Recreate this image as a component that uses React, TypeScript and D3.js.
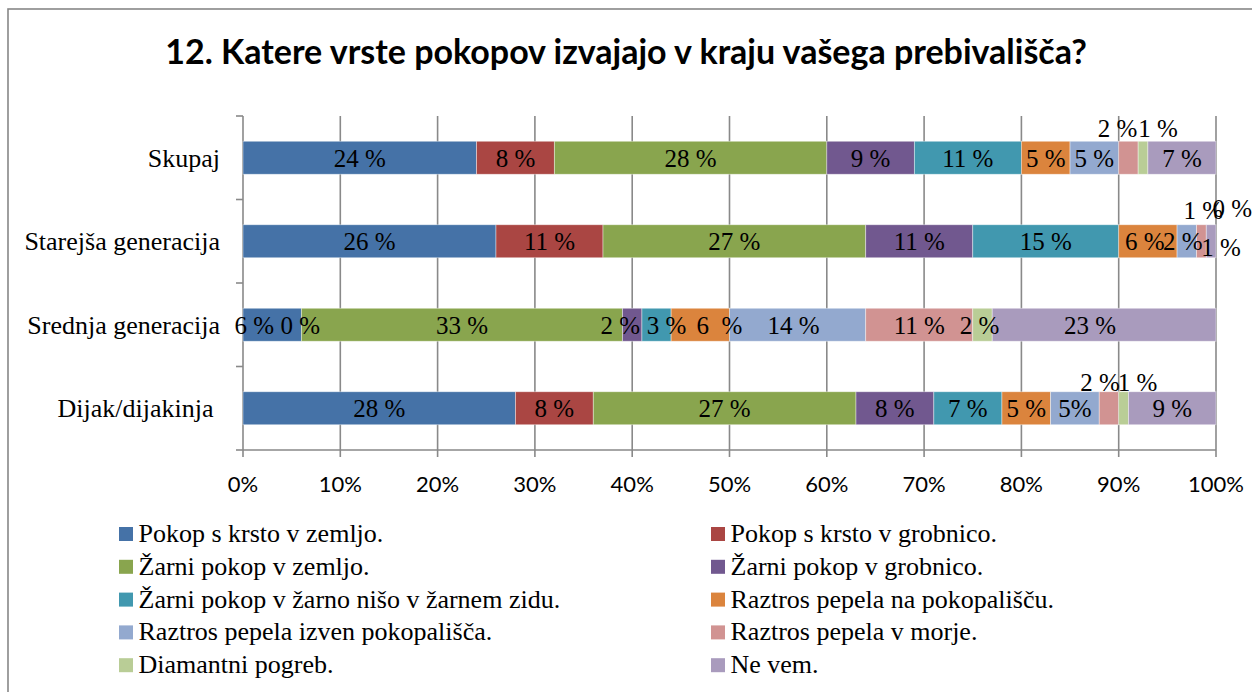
import React from "react";
import * as d3 from "d3";

const title = "12. Katere vrste pokopov izvajajo v kraju vašega prebivališča?";
const categories = ["Skupaj", "Starejša generacija", "Srednja generacija", "Dijak/dijakinja"];
const seriesNames = [
  "Pokop s krsto v zemljo.",
  "Pokop s krsto v grobnico.",
  "Žarni pokop v zemljo.",
  "Žarni pokop v grobnico.",
  "Žarni pokop v žarno nišo v žarnem zidu.",
  "Raztros pepela na pokopališču.",
  "Raztros pepela izven pokopališča.",
  "Raztros pepela v morje.",
  "Diamantni pogreb.",
  "Ne vem.",
];
// values per series, in category order
const krstoZemlja = [24, 26, 6, 28];
const krstoGrobnica = [8, 11, 0, 8];
const zarniZemlja = [28, 27, 33, 27];
const zarniGrobnica = [9, 11, 2, 8];
const zarniNisa = [11, 15, 3, 7];
const raztrosPokopalisce = [5, 6, 6, 5];
const raztrosIzven = [5, 2, 14, 5];
const raztrosMorje = [2, 1, 11, 2];
const diamantni = [1, 0, 2, 1];
const neVem = [7, 1, 23, 9];
const xTicks = [0, 10, 20, 30, 40, 50, 60, 70, 80, 90, 100];

const seriesValues = [
  krstoZemlja, krstoGrobnica, zarniZemlja, zarniGrobnica, zarniNisa,
  raztrosPokopalisce, raztrosIzven, raztrosMorje, diamantni, neVem,
];
const colors = [
  "#4572A7", "#AA4643", "#89A54E", "#71588F", "#4198AF",
  "#DB843D", "#93A9CF", "#D19392", "#B9CD96", "#A99BBD",
];

// label placement tweaks (style), keyed "category|series"
const labelOffsets: Record<string, [number, number]> = {
  "0|7": [-11, -30], "0|8": [15, -30],
  "1|5": [-3, 0], "1|6": [-4, 0], "1|7": [2, -31], "1|8": [26, -33], "1|9": [10, 6],
  "2|0": [-18, 0], "2|1": [-1, 0], "2|3": [-12, 0], "2|4": [10, 0], "2|5": [19, 0],
  "2|6": [-4, 0], "2|8": [-3, 0], "2|9": [-14, 0],
  "3|7": [-9, -26], "3|8": [14, -26],
};
const labelText: Record<string, string> = { "3|6": "5%", "2|5": "6  %" };

const W = 1252, H = 692;
const serif = "'Liberation Serif', 'Times New Roman', serif";
const sans = "Lato, 'Open Sans', sans-serif";
const grid = "#898989";

export default function App() {
  const x = d3.scaleLinear().domain([0, 100]).range([243, 1216]);
  const y = d3.scaleBand<string>().domain(categories).range([116, 450]).paddingInner(0.605).paddingOuter(0.3025);
  const stack = d3.stack<number>().keys(seriesNames.map((_, i) => String(i)))
    .value((ci, key) => seriesValues[+key][ci]);
  const stacked = stack(categories.map((_, i) => i));
  const bw = y.bandwidth();
  const step = y.step();
  const yTop = 116, yBot = 450;

  return (
    <svg width={W} height={H} style={{ position: "absolute", left: 0, top: 0, background: "#fff" }}>
      <rect x={8} y={9} width={1400} height={1000} fill="#fff" stroke="#878787" strokeWidth={1.6} />
      <text x={626} y={64} textAnchor="middle" fontFamily={sans} fontWeight={700} fontSize={34}>{title}</text>

      {/* gridlines */}
      {xTicks.map((t) => (
        <line key={"g" + t} x1={x(t)} x2={x(t)} y1={yTop} y2={yBot + 7} stroke={grid} strokeWidth={1.6} />
      ))}
      {/* y axis ticks */}
      {d3.range(categories.length + 1).map((i) => (
        <line key={"yt" + i} x1={236} x2={x(0)} y1={yTop + i * step} y2={yTop + i * step} stroke={grid} strokeWidth={1.6} />
      ))}
      <line x1={x(0)} x2={x(100)} y1={yBot} y2={yBot} stroke={grid} strokeWidth={1.6} />

      {/* bars */}
      {stacked.map((layer, si) => (
        <g key={"s" + si}>
          {layer.map((d, ci) => (
            <rect key={ci} x={x(d[0])} y={y(categories[ci])!} width={x(d[1]) - x(d[0])} height={bw}
              fill={colors[si]} stroke="#fff" strokeOpacity={0.5} strokeWidth={0.8} />
          ))}
        </g>
      ))}

      {/* data labels */}
      {stacked.map((layer, si) =>
        layer.map((d, ci) => {
          const k = ci + "|" + si;
          const off = labelOffsets[k] || [0, 0];
          const cx = (x(d[0]) + x(d[1])) / 2 + off[0];
          const cy = y(categories[ci])! + bw / 2 + 9 + off[1];
          const txt = labelText[k] || `${seriesValues[si][ci]} %`;
          return (
            <text key={"l" + k} x={cx} y={cy} textAnchor="middle" fontFamily={serif} fontSize={25}
              style={{ whiteSpace: "pre" }} fill="#000">{txt}</text>
          );
        })
      )}

      {/* category labels */}
      {categories.map((c, i) => (
        <text key={"c" + c} x={220} y={y(c)! + bw / 2 + 9} textAnchor="end" fontFamily={serif} fontSize={26}
          style={{ whiteSpace: "pre" }}>{i === 3 ? c + " " : c}</text>
      ))}

      {/* x tick labels */}
      {xTicks.map((t) => (
        <text key={"xt" + t} x={x(t)} y={492} textAnchor="middle" fontFamily={sans} fontSize={22}>{t}%</text>
      ))}

      {/* legend */}
      {seriesNames.map((n, i) => {
        const col = i % 2;
        const row = Math.floor(i / 2);
        const sx = col === 0 ? 119 : 711;
        const cy = 534 + row * 32.8;
        return (
          <g key={"lg" + i}>
            <rect x={sx} y={cy - 7} width={14} height={14} fill={colors[i]} />
            <text x={sx + 19.5} y={cy + 8} fontFamily={serif} fontSize={26}>{n}</text>
          </g>
        );
      })}
    </svg>
  );
}
